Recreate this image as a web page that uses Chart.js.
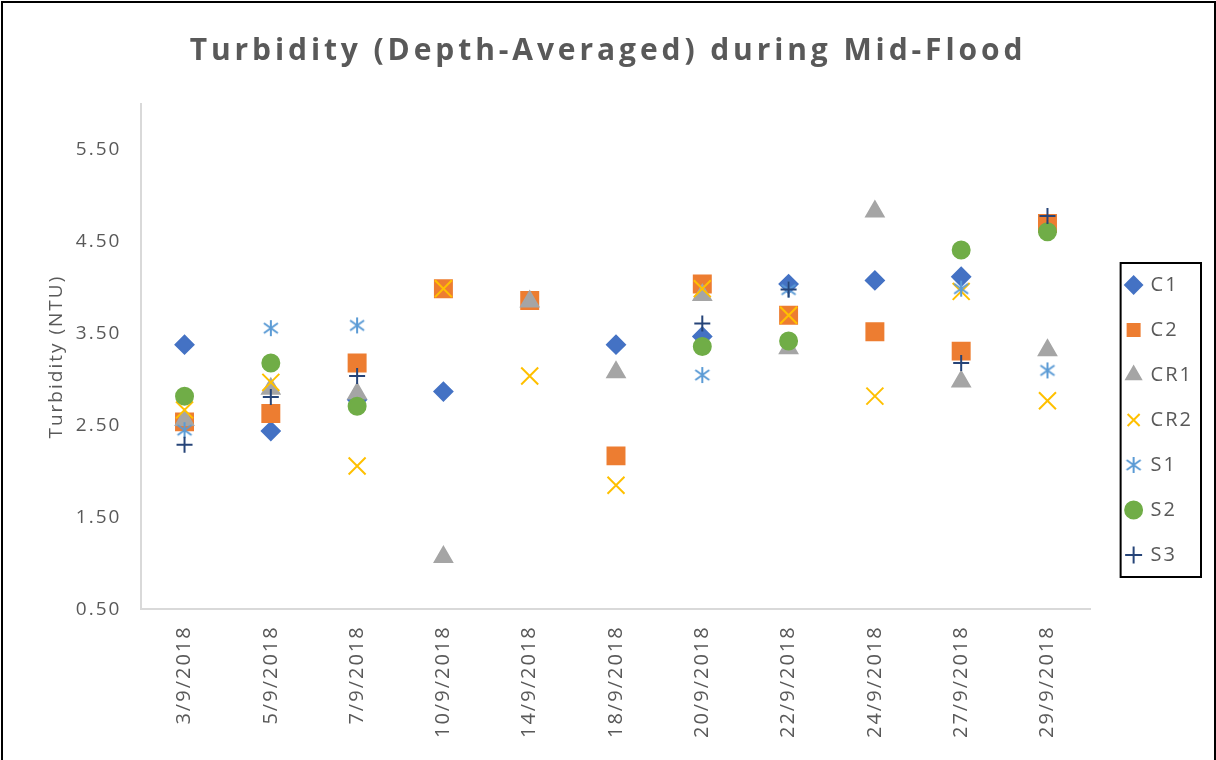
<!DOCTYPE html>
<html lang="en">
  <head>
    <meta charset="UTF-8" />
    <title>Turbidity Mid-Flood</title>
    <script src="https://cdn.jsdelivr.net/npm/chart.js@4"></script>
    <style>
      body { margin: 0; background: #fff; overflow: hidden; }
      .wrap { position: relative; width: 1216px; height: 760px; }
      .frame {
        position: absolute; left: 1px; top: 1px; width: 1211px; height: 780px;
        border: 2px solid #000; pointer-events: none;
      }
      .title {
        position: absolute; left: 0; width: 1216px; top: 28px; text-align: center;
        font-family: "Open Sans", sans-serif; font-weight: 700; font-size: 30px;
        letter-spacing: 3.9px; color: #595959;
      }
    </style>
  </head>
  <body>
    <div class="wrap">
      <canvas id="turbChart" width="1216" height="760"></canvas>
      <div class="title">Turbidity (Depth-Averaged) during Mid-Flood</div>
      <div class="frame"></div>
    </div>

    <script>
      const dates = ['3/9/2018', '5/9/2018', '7/9/2018', '10/9/2018', '14/9/2018', '18/9/2018',
        '20/9/2018', '22/9/2018', '24/9/2018', '27/9/2018', '29/9/2018'];
      const yTicks = [0.5, 1.5, 2.5, 3.5, 4.5, 5.5];
      const c1 = [3.38, 2.44, 2.78, 2.87, null, 3.38, 3.47, 4.04, 4.08, 4.12, null];
      const c2 = [2.54, 2.63, 3.18, 3.99, 3.86, 2.17, 4.04, 3.70, 3.52, 3.31, 4.70];
      const cr1 = [2.56, 2.90, 2.85, 1.07, 3.85, 3.08, 3.92, 3.34, 4.83, 2.98, 3.32];
      const cr2 = [2.67, 2.97, 2.06, 3.99, 3.04, 1.85, 3.99, 3.70, 2.82, 3.96, 2.77];
      const s1 = [2.45, 3.56, 3.59, null, null, null, 3.05, 3.98, null, 3.99, 3.10];
      const s2 = [2.82, 3.18, 2.71, null, null, null, 3.36, 3.42, null, 4.41, 4.61];
      const s3 = [2.29, 2.81, 3.04, null, null, null, 3.61, 3.98, null, 3.18, 4.78];

      // excel-like asterisk marker (vertical bar + X)
      const star = document.createElement('canvas');
      star.width = 18; star.height = 18;
      const sc = star.getContext('2d');
      sc.strokeStyle = '#5B9BD5';
      sc.lineWidth = 2;
      sc.beginPath();
      sc.moveTo(9, 1); sc.lineTo(9, 17);
      sc.moveTo(2, 4); sc.lineTo(16, 14);
      sc.moveTo(2, 14); sc.lineTo(16, 4);
      sc.stroke();

      const mk = (label, data, color, style, radius, order, fill) => ({
        label, data, order,
        showLine: false,
        pointStyle: style,
        pointRadius: radius,
        pointHoverRadius: radius,
        pointBorderWidth: 2,
        borderColor: color,
        backgroundColor: fill === false ? 'rgba(0,0,0,0)' : color,
        pointBackgroundColor: fill === false ? 'rgba(0,0,0,0)' : color,
      });

      // wider text like the excel export
      const spacing = {
        id: 'spacing',
        beforeUpdate(chart) { chart.ctx.letterSpacing = '2px'; },
        beforeDraw(chart) { chart.ctx.letterSpacing = '2px'; }
      };

      const legendBox = {
        id: 'legendBox',
        afterLayout(chart) {
          chart.legend.left += 11;
          chart.legend.right += 11;
          chart.legend.top -= 9;
          chart.legend.bottom -= 9;
        },
        afterDraw(chart) {
          const boxes = chart.legend.legendHitBoxes;
          if (!boxes || !boxes.length) return;
          const l = Math.min(...boxes.map(b => b.left)) - 6;
          const t = Math.min(...boxes.map(b => b.top)) - 12;
          const r = Math.max(...boxes.map(b => b.left + b.width)) + 8;
          const b = Math.max(...boxes.map(b => b.top + b.height)) + 12;
          const ctx = chart.ctx;
          ctx.save();
          ctx.strokeStyle = '#000';
          ctx.lineWidth = 2;
          ctx.strokeRect(l, t, r - l, b - t);
          ctx.restore();
        }
      };

      new Chart(document.getElementById('turbChart'), {
        type: 'line',
        data: {
          labels: dates,
          datasets: [
            mk('C1', c1, '#4472C4', 'rectRot', 9, 7),
            mk('C2', c2, '#ED7D31', 'rect', 12, 6),
            mk('CR1', cr1, '#A5A5A5', 'triangle', 10, 5),
            mk('CR2', cr2, '#FFC000', 'crossRot', 12, 4, false),
            mk('S1', s1, '#5B9BD5', star, 9, 3, false),
            mk('S2', s2, '#70AD47', 'circle', 8.5, 2),
            mk('S3', s3, '#264478', 'cross', 8, 1, false),
          ]
        },
        options: {
          responsive: false,
          animation: false,
          layout: { padding: { top: 104, bottom: 6, left: 45, right: 24 } },
          plugins: {
            title: { display: false },
            tooltip: { enabled: false },
            legend: {
              position: 'right',
              labels: {
                usePointStyle: true,
                boxWidth: 14,
                boxHeight: 12,
                padding: 25,
                color: '#595959',
                font: { family: 'Open Sans', size: 20 },
                sort: (a, b) => a.datasetIndex - b.datasetIndex
              }
            }
          },
          scales: {
            x: {
              offset: true,
              grid: { display: false, drawTicks: false },
              border: { color: '#D9D9D9', width: 2 },
              ticks: {
                minRotation: 90, maxRotation: 90, padding: 16,
                color: '#595959', font: { family: 'Open Sans', size: 20 }
              }
            },
            y: {
              min: 0.5, max: 6.0,
              grid: { display: false, drawTicks: false },
              border: { color: '#D9D9D9', width: 2 },
              title: {
                display: true, text: 'Turbidity (NTU)', color: '#595959',
                font: { family: 'Open Sans', size: 19 }, padding: { top: 0, bottom: -12 }
              },
              afterBuildTicks: axis => { axis.ticks = yTicks.map(v => ({ value: v })); },
              ticks: {
                padding: 20,
                color: '#595959', font: { family: 'Open Sans', size: 19 },
                callback: v => Number(v).toFixed(2)
              }
            }
          }
        },
        plugins: [spacing, legendBox]
      });
    </script>
  </body>
</html>
